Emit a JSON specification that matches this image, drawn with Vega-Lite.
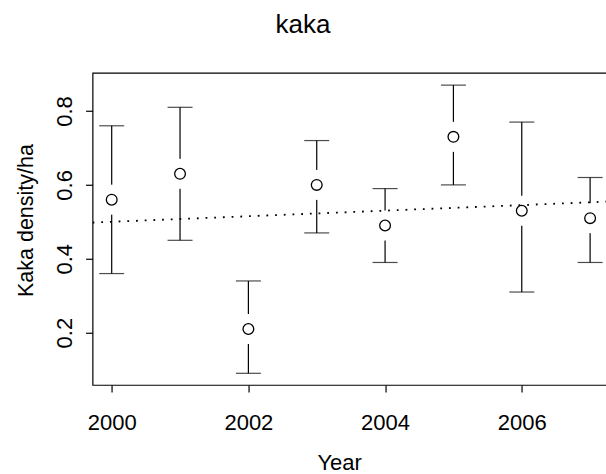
{
  "$schema": "https://vega.github.io/schema/vega-lite/v6.json",
  "autosize": {"type": "none"},
  "padding": {"left": 92.56, "top": 72.76, "right": 0, "bottom": 89},
  "width": 516.7,
  "height": 312.2,
  "background": "white",
  "config": {
    "font": "Liberation Sans",
    "view": {"stroke": "black", "strokeWidth": 1.2, "fill": "white"}
  },
  "title": {
    "text": "kaka",
    "fontSize": 26,
    "fontWeight": "normal",
    "font": "Liberation Sans",
    "color": "black",
    "anchor": "middle",
    "frame": "group",
    "baseline": "alphabetic",
    "offset": 14,
    "dx": -48
  },
  "datasets": {
    "kaka": [
      {"year": 2000, "density": 0.56, "lower": 0.36, "upper": 0.76},
      {"year": 2001, "density": 0.63, "lower": 0.45, "upper": 0.81},
      {"year": 2002, "density": 0.21, "lower": 0.09, "upper": 0.34},
      {"year": 2003, "density": 0.60, "lower": 0.47, "upper": 0.72},
      {"year": 2004, "density": 0.49, "lower": 0.39, "upper": 0.59},
      {"year": 2005, "density": 0.73, "lower": 0.60, "upper": 0.87},
      {"year": 2006, "density": 0.53, "lower": 0.31, "upper": 0.77},
      {"year": 2007, "density": 0.51, "lower": 0.39, "upper": 0.62}
    ],
    "trend": [
      {"year": 1999.72, "fit": 0.498},
      {"year": 2007.28, "fit": 0.555}
    ]
  },
  "encoding": {
    "x": {
      "field": "year",
      "type": "quantitative",
      "scale": {"domain": [1999.72, 2007.28], "nice": false, "zero": false},
      "axis": {
        "values": [2000, 2002, 2004, 2006],
        "format": "d",
        "grid": false,
        "domain": false,
        "tickColor": "black",
        "tickSize": 7,
        "tickWidth": 1.2,
        "labelFontSize": 22,
        "labelColor": "black",
        "labelBaseline": "alphabetic",
        "labelPadding": 37.3,
        "labelFlush": false,
        "labelOverlap": false,
        "title": "Year",
        "titleFontSize": 22,
        "titleFontWeight": "normal",
        "titleColor": "black",
        "titleX": 246.6,
        "titleY": 85,
        "titleAlign": "center",
        "titleBaseline": "alphabetic"
      }
    }
  },
  "layer": [
    {
      "data": {"name": "kaka"},
      "mark": {"type": "rule", "color": "black", "strokeWidth": 1.2},
      "encoding": {
        "y": {
          "field": "lower",
          "type": "quantitative",
          "scale": {"domain": [0.0585, 0.9035], "nice": false, "zero": false},
          "axis": {
            "values": [0.2, 0.4, 0.6, 0.8],
            "format": ".1f",
            "grid": false,
            "domain": false,
            "tickColor": "black",
            "tickSize": 7,
            "tickWidth": 1.2,
            "labelFontSize": 22,
            "labelColor": "black",
            "labelAngle": -90,
            "labelAlign": "center",
            "labelBaseline": "alphabetic",
            "labelPadding": 13.9,
            "labelFlush": false,
            "labelOverlap": false,
            "title": "Kaka density/ha",
            "titleFontSize": 21.5,
            "titleFontWeight": "normal",
            "titleColor": "black",
            "titleAngle": -90,
            "titleX": -59.8,
            "titleY": 147.3,
            "titleAlign": "center",
            "titleBaseline": "alphabetic"
          }
        },
        "y2": {"field": "upper"}
      }
    },
    {
      "data": {"name": "kaka"},
      "mark": {"type": "tick", "orient": "horizontal", "color": "black", "size": 25, "thickness": 1.2},
      "encoding": {"y": {"field": "upper", "type": "quantitative"}}
    },
    {
      "data": {"name": "kaka"},
      "mark": {"type": "tick", "orient": "horizontal", "color": "black", "size": 25, "thickness": 1.2},
      "encoding": {"y": {"field": "lower", "type": "quantitative"}}
    },
    {
      "data": {"name": "kaka"},
      "mark": {"type": "tick", "orient": "vertical", "color": "white", "size": 30, "thickness": 4, "opacity": 1},
      "encoding": {"y": {"field": "density", "type": "quantitative"}}
    },
    {
      "data": {"name": "trend"},
      "mark": {"type": "line", "color": "black", "strokeWidth": 1.8, "strokeDash": [1.8, 6.9], "clip": true},
      "encoding": {"y": {"field": "fit", "type": "quantitative"}}
    },
    {
      "data": {"name": "kaka"},
      "mark": {"type": "point", "shape": "circle", "filled": false, "color": "black", "size": 115, "strokeWidth": 1.3, "opacity": 1},
      "encoding": {"y": {"field": "density", "type": "quantitative"}}
    }
  ]
}
